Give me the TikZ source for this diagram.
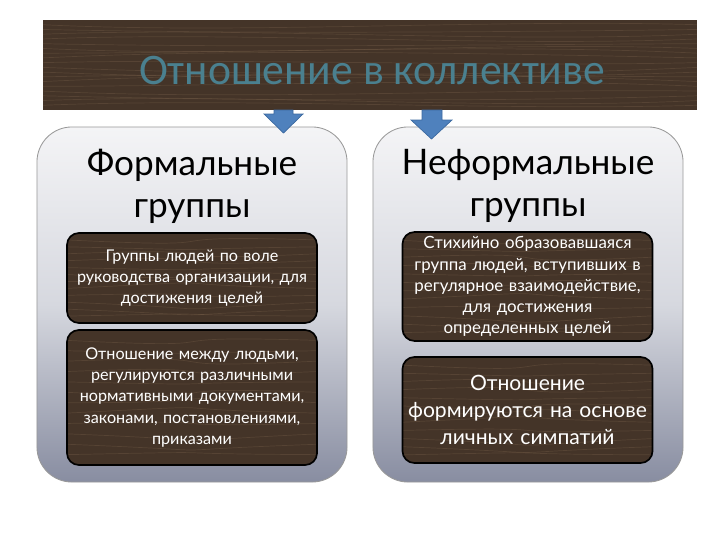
\documentclass[tikz,border=0pt]{standalone}
\usepackage{fontspec}
\setmainfont{Lato}
\newfontfamily\bannerfont{Carlito}
\usetikzlibrary{calc}
\definecolor{wood}{RGB}{68,52,40}
\definecolor{grain}{RGB}{160,130,100}
\definecolor{titleblue}{RGB}{74,128,143}
\definecolor{arrowblue}{RGB}{79,129,189}
\definecolor{arrowedge}{RGB}{60,105,160}
\definecolor{boxtop}{RGB}{244,244,246}
\definecolor{boxmid}{RGB}{214,216,223}
\definecolor{boxbot}{RGB}{136,141,161}

\tikzset{
  woodgrain/.style={fill=wood, path picture={
    \foreach \k [evaluate=\k as \f using \k/(#1+1)] in {1,...,#1}{
      \draw[grain, opacity=.2, line width=.5pt]
        ($(path picture bounding box.north west)!\f!(path picture bounding box.south west)$)
        .. controls +(200,{10*sin(\k*77)}) and +(-200,{-10*cos(\k*53)}) ..
        ($(path picture bounding box.north east)!\f!(path picture bounding box.south east)$);
    }}},
  groupbox/.style={draw=gray!80, line width=.6pt, rounded corners=0.875cm,
    minimum width=7.75cm, minimum height=8.875cm,
    top color=boxtop, bottom color=boxbot, middle color=boxmid},
  grouptitle/.style={align=center, font=\fontsize{25}{30}\selectfont, text=black},
  infobox/.style={woodgrain=12, draw=black, line width=1.2pt, rounded corners=0.3cm,
    minimum width=6.25cm, text width=6cm, align=center, text=white,
    font=\fontsize{11.5}{15}\selectfont},
  blockarrow/.style={fill=arrowblue, draw=arrowedge, line width=.5pt},
}

\begin{document}
\begin{tikzpicture}[x=0.025cm, y=-0.025cm]
    \useasboundingbox (0,0) rectangle (720,540);

    % wooden banner
    \node[woodgrain=18, minimum width=16.35cm, minimum height=2.25cm] (banner) at (370,65) {};
    \node[font=\bannerfont\fontsize{31}{36}\selectfont, text=titleblue] (title) at (372,71) {Отношение в коллективе};

    % two groups
    \node[groupbox] (formal) at (192,304.5) {};
    \node[groupbox] (informal) at (528,304.5) {};
    \node[grouptitle] (formaltitle) at (192,186) {Формальные\\группы};
    \node[grouptitle] (informaltitle) at (528,186) {Неформальные\\группы};

    \node[infobox, minimum height=2.25cm] (f1) at (192,278) {Группы людей по воле\\руководства организации, для\\достижения целей};
    \node[infobox, minimum height=3.375cm] (f2) at (192,397.5) {Отношение между людьми,\\регулируются различными\\нормативными документами,\\законами, постановлениями,\\приказами};
    \node[infobox, minimum height=2.675cm, font=\fontsize{12}{15}\selectfont] (i1) at (527.5,286.5) {Стихийно образовавшаяся\\группа людей, вступивших в\\регулярное взаимодействие,\\для достижения\\определенных целей};
    \node[infobox, minimum height=2.65cm, font=\fontsize{15}{19}\selectfont] (i2) at (527.5,410) {Отношение\\формируются на основе\\личных симпатий};

    % arrows from the banner
    \draw[blockarrow] (274,110) -- (293,110) -- (293,114) -- (303,114) -- (283.5,133) -- (264,114) -- (274,114) -- cycle;
    \draw[blockarrow] (422,110) -- (442,110) -- (442,120) -- (452,120) -- (431.5,139) -- (411,120) -- (422,120) -- cycle;
\end{tikzpicture}
\end{document}
